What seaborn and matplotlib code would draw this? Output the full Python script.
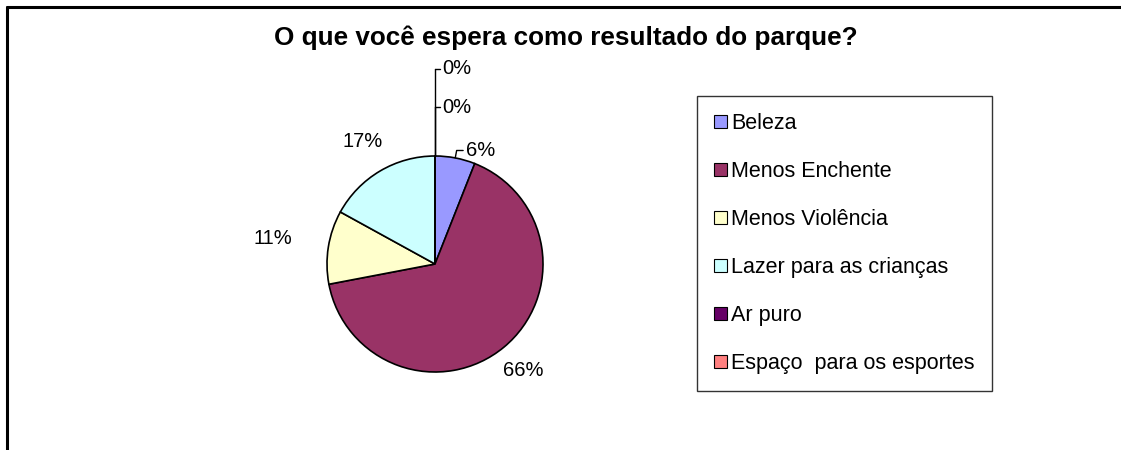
import numpy as np
import matplotlib
matplotlib.use("Agg")
import matplotlib.pyplot as plt
from matplotlib.lines import Line2D
import seaborn as sns

# data
categories = ["Beleza", "Menos Enchente", "Menos Violência",
              "Lazer para as crianças", "Ar puro", "Espaço  para os esportes"]
percent = [6, 66, 11, 17, 0, 0]
colors = ["#9999FF", "#993366", "#FFFFCC", "#CCFFFF", "#660066", "#FF8080"]
title = "O que você espera como resultado do parque?"

sns.set_theme(style="white")
plt.rcParams["font.family"] = ["Liberation Sans", "DejaVu Sans"]
plt.rcParams["text.color"] = "black"

W, H = 1121, 450
fig = plt.figure(figsize=(W / 100, H / 100), dpi=100)

# pie centre ~ (435, 264) px, radius ~108 px -> axes spanning +-2 radii
R = 108
cx, cy = 435, 264
ax = fig.add_axes([(cx - 2 * R) / W, (H - cy - 2 * R) / H, 4 * R / W, 4 * R / H])

wedges, _ = ax.pie(percent, colors=sns.color_palette(colors), startangle=90,
                   counterclock=False, radius=1,
                   wedgeprops=dict(edgecolor="black", linewidth=1.2))
ax.set_xlim(-2, 2)
ax.set_ylim(-2, 2)
ax.set_aspect("equal")
ax.axis("off")

lab_fs = 14.5
label_dist = {"Menos Enchente": 1.28, "Menos Violência": 1.52,
              "Lazer para as crianças": 1.32}
zero_dist = [1.45, 1.81]
zi = 0
for w, cat, p in zip(wedges, categories, percent):
    mid = np.deg2rad((w.theta1 + w.theta2) / 2)
    txt = f"{p:.0f}%"
    if cat in label_dist:
        d = label_dist[cat]
        ax.text(d * np.cos(mid), d * np.sin(mid), txt, fontsize=lab_fs,
                ha="center", va="center", color="black")
    elif p == 0:
        # stacked leader labels on top of the pie
        d = zero_dist[zi]
        zi += 1
        ax.plot([0, 0], [1, d], color="black", lw=1)
        ax.plot([0, 0.05], [d, d], color="black", lw=1)
        ax.text(0.07, d, txt, fontsize=lab_fs, ha="left", va="center")
    else:
        x0, y0 = np.cos(mid), np.sin(mid)
        x1, y1 = 1.07 * x0, 1.07 * y0
        ax.plot([x0, x1, x1 + 0.06], [y0, y1, y1], color="black", lw=1)
        ax.text(x1 + 0.09, y1, txt, fontsize=lab_fs, ha="left", va="center")

fig.text(566 / W, 1 - 38 / H, title, fontsize=18.8, fontweight="bold",
         ha="center", va="center")

leg = fig.legend(wedges, categories, loc="upper left",
                 bbox_to_anchor=(697 / W, 1 - 96 / H), bbox_transform=fig.transFigure,
                 fontsize=15.5, frameon=True, fancybox=False, borderaxespad=0,
                 handlelength=0.6, handleheight=0.55, handletextpad=0.2,
                 labelspacing=1.25, borderpad=0.8)
fr = leg.get_frame()
fr.set_edgecolor("black")
fr.set_linewidth(1)
for h in leg.legend_handles:
    h.set_edgecolor("black")
    h.set_linewidth(0.8)

# outer chart border (only top and left visible in the crop)
fig.add_artist(Line2D([7 / W, 1], [1 - 7 / H, 1 - 7 / H], color="black", lw=2.2))
fig.add_artist(Line2D([7 / W, 7 / W], [1 - 7 / H, 0], color="black", lw=2.2))

fig.savefig("out.png", dpi=100, facecolor="white")
